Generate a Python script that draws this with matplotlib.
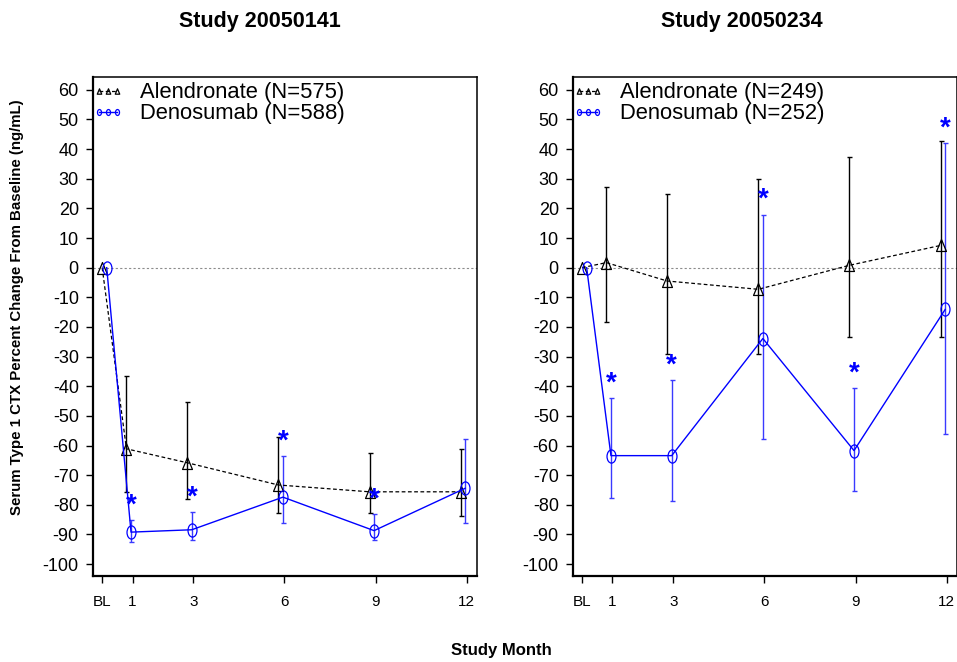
import numpy as np
import matplotlib
matplotlib.use('Agg')
import matplotlib.pyplot as plt
from matplotlib.path import Path
from matplotlib.transforms import Affine2D

plt.rcParams['font.family'] = ['Liberation Sans', 'DejaVu Sans']
plt.rcParams['axes.unicode_minus'] = False

months = np.array([0, 1, 3, 6, 9, 12])
month_labels = ['BL', '1', '3', '6', '9', '12']

# Study 20050141
s1_title = 'Study 20050141'
s1_aln_label = 'Alendronate (N=575)'
s1_dmab_label = 'Denosumab (N=588)'
s1_aln = [0, -61.1, -65.8, -73.3, -75.6, -75.6]
s1_aln_hi = [np.nan, -36.4, -45.3, -57.0, -62.5, -61.1]
s1_aln_lo = [np.nan, -75.5, -78.0, -82.7, -82.7, -83.6]
s1_dmab = [0, -89.2, -88.4, -77.4, -88.7, -74.4]
s1_dmab_hi = [np.nan, -85.0, -82.3, -63.4, -83.0, -57.8]
s1_dmab_lo = [np.nan, -92.6, -92.0, -86.0, -92.0, -86.2]
s1_signif = [False, True, True, True, True, False]

# Study 20050234
s2_title = 'Study 20050234'
s2_aln_label = 'Alendronate (N=249)'
s2_dmab_label = 'Denosumab (N=252)'
s2_aln = [0, 1.7, -4.5, -7.3, 0.8, 7.5]
s2_aln_hi = [np.nan, 27.3, 25.0, 29.8, 37.4, 42.8]
s2_aln_lo = [np.nan, -18.4, -29.2, -29.2, -23.5, -23.3]
s2_dmab = [0, -63.4, -63.4, -23.9, -61.7, -14.1]
s2_dmab_hi = [np.nan, -44.1, -37.9, 17.9, -40.5, 42.1]
s2_dmab_lo = [np.nan, -77.6, -78.6, -57.8, -75.3, -56.2]
s2_signif = [False, True, True, True, True, True]

BLUE = '#0000ff'
EBLUE = '#3a3aff'

tri = Path([(0, 1), (-0.83, -1), (0.83, -1), (0, 1)],
           [Path.MOVETO, Path.LINETO, Path.LINETO, Path.CLOSEPOLY])
circ = Path.unit_circle().transformed(Affine2D().scale(0.68, 1.0))


def panel(ax, title_x, title, aln, aln_hi, aln_lo, dmab, dmab_hi, dmab_lo,
          signif, aln_label, dmab_label):
    aln = np.array(aln); aln_hi = np.array(aln_hi); aln_lo = np.array(aln_lo)
    dmab = np.array(dmab); dmab_hi = np.array(dmab_hi); dmab_lo = np.array(dmab_lo)
    xa = months + np.where(months == 0, 0.0, -0.2)
    xd = months + np.where(months == 0, 0.15, -0.05)

    ax.axhline(0, color='#8c8c8c', lw=0.8, ls=(0, (2, 2)), zorder=1)

    ax.errorbar(xa[1:], aln[1:], yerr=[aln[1:] - aln_lo[1:], aln_hi[1:] - aln[1:]],
                fmt='none', ecolor='black', elinewidth=1.0, capsize=1.8,
                capthick=1.0, zorder=2)
    ax.errorbar(xd[1:], dmab[1:], yerr=[dmab[1:] - dmab_lo[1:], dmab_hi[1:] - dmab[1:]],
                fmt='none', ecolor=EBLUE, elinewidth=1.0, capsize=1.8,
                capthick=1.0, zorder=2)

    ax.plot(xa, aln, color='black', lw=0.9, ls=(0, (3, 2)), marker=tri,
            markersize=8.6, markerfacecolor='none', markeredgecolor='black',
            markeredgewidth=0.9, label=aln_label, zorder=3)
    ax.plot(xd, dmab, color=BLUE, lw=1.0, marker=circ, markersize=9.5,
            markerfacecolor='none', markeredgecolor=BLUE,
            markeredgewidth=0.9, label=dmab_label, zorder=3)

    for x, top, s in zip(xd, dmab_hi, signif):
        if s:
            ax.text(x, top + 0.5, '*', color=BLUE, fontsize=20,
                    fontweight='bold', ha='center', va='bottom')

    ax.set_xlim(-0.31, 12.33)
    ax.set_ylim(-104, 64.2)
    ax.set_xticks(months)
    ax.set_xticklabels(month_labels)
    ax.set_yticks(np.arange(-100, 61, 10))
    ax.tick_params(axis='y', labelsize=13, length=5, width=1.0, pad=5)
    ax.tick_params(axis='x', labelsize=11, length=5, width=1.0, pad=9)
    for side in ['left', 'bottom']:
        ax.spines[side].set_linewidth(1.6)
    for side in ['top', 'right']:
        ax.spines[side].set_linewidth(1.1)

    ax.legend(loc='upper left', bbox_to_anchor=(0.0, 0.99), frameon=False,
              fontsize=15.8, numpoints=3, markerscale=0.45,
              handlelength=1.4, handletextpad=0.75, labelspacing=0.0,
              borderaxespad=0.0, borderpad=0.0)

    fig.text(title_x, 0.968, title, fontsize=15.5, fontweight='bold',
             ha='center', va='center')


fig = plt.figure(figsize=(9.57, 6.62), dpi=100)
ax1 = fig.add_axes([0.0969, 0.1299, 0.4013, 0.7533])
ax2 = fig.add_axes([0.5984, 0.1299, 0.4013, 0.7533])

panel(ax1, 0.2717, s1_title, s1_aln, s1_aln_hi, s1_aln_lo, s1_dmab, s1_dmab_hi,
      s1_dmab_lo, s1_signif, s1_aln_label, s1_dmab_label)
panel(ax2, 0.7753, s2_title, s2_aln, s2_aln_hi, s2_aln_lo, s2_dmab, s2_dmab_hi,
      s2_dmab_lo, s2_signif, s2_aln_label, s2_dmab_label)

fig.text(0.018, 0.536, 'Serum Type 1 CTX Percent Change From Baseline (ng/mL)',
         rotation=90, fontsize=10.8, fontweight='bold', ha='center', va='center')
fig.text(0.5242, 0.018, 'Study Month', fontsize=12, fontweight='bold',
         ha='center', va='center')

fig.savefig('out.png', dpi=100)
